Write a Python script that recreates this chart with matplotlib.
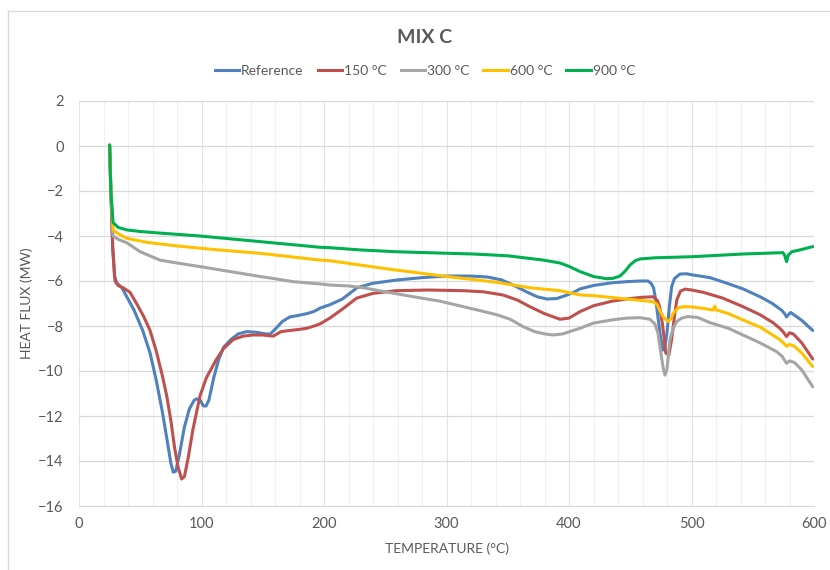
#!/usr/bin/env python3
"""DSC curves for MIX C — heat flux vs temperature for each firing temperature."""

import matplotlib.pyplot as plt
from matplotlib.lines import Line2D
from matplotlib.ticker import MultipleLocator

# Reference
ref_t = [25, 26, 27.5, 29, 31, 35, 39, 45, 52, 58, 63, 68, 72, 75, 77, 79, 82, 86, 90, 94,
         96, 99, 101.5, 103.7, 106, 110, 114, 118, 124, 130, 137, 145, 152, 156, 160, 166,
         172, 180, 186, 192, 197, 205, 215, 227, 240, 259, 280, 300, 320, 333, 345, 357,
         366, 374, 382, 390, 397, 404, 409, 420, 435, 447, 458, 464.5, 467, 469, 471,
         472.6, 474.5, 476.5, 478, 480, 482, 483.8, 486, 490.6, 496, 501, 515, 529, 542,
         556, 566, 573.6, 576, 577.6, 579, 581, 590, 599]
ref_q = [0, -2, -4.5, -5.8, -6.1, -6.3, -6.7, -7.3, -8.2, -9.2, -10.4, -11.8, -13.1, -14.1,
         -14.5, -14.45, -13.7, -12.5, -11.7, -11.3, -11.24, -11.3, -11.55, -11.56, -11.3,
         -10.3, -9.5, -8.95, -8.6, -8.35, -8.25, -8.28, -8.35, -8.36, -8.15, -7.8, -7.6,
         -7.52, -7.45, -7.35, -7.2, -7.05, -6.8, -6.3, -6.1, -5.96, -5.85, -5.78, -5.78,
         -5.82, -5.95, -6.25, -6.5, -6.7, -6.8, -6.78, -6.65, -6.5, -6.35, -6.2, -6.08,
         -6.03, -6.0, -6.0, -6.1, -6.3, -6.9, -7.6, -8.4, -9.07, -9.0, -8.3, -7.1, -6.25,
         -5.9, -5.69, -5.68, -5.73, -5.85, -6.1, -6.35, -6.7, -7.0, -7.3, -7.45, -7.6,
         -7.5, -7.4, -7.75, -8.2]

# 150 °C
t150 = [25, 26, 27.5, 29.4, 32, 36, 41.6, 47, 53, 58, 63, 68, 71.6, 75, 78, 81, 83.8, 86,
        89, 93, 98.8, 104, 108, 112, 118, 126, 134, 142, 150, 158.5, 165, 172, 180, 186,
        192, 197, 205, 215, 226.7, 240, 259, 285, 313.6, 330, 346, 358, 368, 380, 392.6,
        400, 409, 420, 435, 447, 458, 468.6, 472, 474, 476.5, 479, 481.5, 483.8, 486, 488,
        491, 494.7, 500, 509.4, 525, 542, 556, 566.5, 572, 574.7, 577.6, 580, 583, 590, 599]
q150 = [0, -2, -4.5, -6.0, -6.2, -6.3, -6.5, -7.0, -7.6, -8.2, -9.1, -10.2, -11.1, -12.2,
        -13.4, -14.3, -14.8, -14.7, -13.9, -12.6, -11.1, -10.3, -9.9, -9.5, -9.0, -8.6,
        -8.45, -8.4, -8.4, -8.45, -8.25, -8.2, -8.15, -8.1, -8.0, -7.9, -7.64, -7.25, -6.76,
        -6.55, -6.43, -6.4, -6.43, -6.48, -6.62, -6.85, -7.14, -7.45, -7.7, -7.65, -7.36,
        -7.1, -6.9, -6.8, -6.73, -6.7, -6.85, -7.14, -8.0, -9.2, -9.3, -8.6, -7.6, -6.84,
        -6.45, -6.36, -6.4, -6.5, -6.75, -7.14, -7.5, -7.85, -8.1, -8.25, -8.47, -8.3,
        -8.35, -8.75, -9.47]

# 300 °C
t300 = [25, 26, 27.8, 32, 39, 50, 66, 80, 98.8, 120, 147.8, 160, 175, 196.7, 205, 220, 232,
        250, 273, 295, 313.6, 330, 341, 352, 362.6, 372, 380, 387, 395, 409, 420, 435, 447,
        458, 466, 470, 472.6, 475, 477, 478.4, 480, 482.4, 485, 488, 492, 497, 505, 515,
        530, 542, 556, 569.5, 574, 577.6, 580, 584, 590, 599]
q300 = [0, -2, -4.0, -4.15, -4.3, -4.7, -5.07, -5.2, -5.36, -5.55, -5.8, -5.9, -6.03, -6.13,
        -6.18, -6.22, -6.3, -6.48, -6.7, -6.9, -7.14, -7.35, -7.5, -7.7, -8.03, -8.25,
        -8.35, -8.4, -8.35, -8.1, -7.87, -7.73, -7.65, -7.63, -7.7, -7.9, -8.3, -9.2, -9.9,
        -10.18, -9.9, -8.6, -8.1, -7.8, -7.65, -7.58, -7.62, -7.85, -8.1, -8.4, -8.75,
        -9.14, -9.35, -9.66, -9.55, -9.62, -9.95, -10.7]

# 600 °C
t600 = [25, 26, 27.8, 32, 39, 55, 79.7, 110, 147.8, 196.7, 205, 250, 300, 340, 368, 392.6,
        409, 419.6, 447, 468.6, 472, 474, 477, 480.8, 483, 485, 489, 493, 500, 510, 517.6,
        519, 520, 530, 542, 556, 572, 575, 577.6, 580, 584, 590, 599]
q600 = [0.05, -2, -3.73, -3.9, -4.1, -4.28, -4.44, -4.6, -4.77, -5.07, -5.1, -5.45, -5.8,
        -6.05, -6.3, -6.43, -6.62, -6.65, -6.8, -6.92, -7.05, -7.29, -7.6, -7.8, -7.7,
        -7.44, -7.2, -7.14, -7.15, -7.22, -7.29, -7.12, -7.28, -7.45, -7.73, -8.05, -8.6,
        -8.75, -8.9, -8.82, -8.9, -9.2, -9.8]

# 900 °C
t900 = [25, 26, 27.8, 32, 39, 50, 66, 98.8, 147.8, 196.7, 205, 230, 259, 290, 321.7, 350,
        379, 392.6, 400, 409, 420, 430.8, 436, 441.6, 446, 449.8, 454, 458, 470, 501, 542,
        574.7, 576, 577.6, 579, 581.8, 590, 599]
q900 = [0.05, -2, -3.4, -3.62, -3.73, -3.8, -3.87, -4.0, -4.25, -4.5, -4.52, -4.62, -4.7,
        -4.75, -4.8, -4.88, -5.07, -5.2, -5.35, -5.58, -5.8, -5.9, -5.88, -5.78, -5.55,
        -5.29, -5.1, -5.02, -4.97, -4.92, -4.8, -4.74, -4.85, -5.14, -4.85, -4.7, -4.6, -4.47]

series = [
    ("Reference", ref_t, ref_q, "#4F81BD"),
    ("150 °C", t150, q150, "#C0504D"),
    ("300 °C", t300, q300, "#A5A5A5"),
    ("600 °C", t600, q600, "#FFC000"),
    ("900 °C", t900, q900, "#00B050"),
]

TEXT = "#595959"
plt.rcParams["font.family"] = ["Lato", "DejaVu Sans"]

fig = plt.figure(figsize=(8.3, 5.7), dpi=100)
ax = fig.add_axes([79 / 830, 1 - 506 / 570, (814 - 79) / 830, (506 - 101) / 570])

for name, t, q, color in series:
    ax.plot(t, q, color=color, lw=2.2, label=name, solid_capstyle="round")

ax.set_xlim(0, 600)
ax.set_ylim(-16, 2)
ax.xaxis.set_major_locator(MultipleLocator(100))
ax.xaxis.set_minor_locator(MultipleLocator(20))
ax.yaxis.set_major_locator(MultipleLocator(2))
ax.grid(True, which="major", axis="y", color="#D9D9D9", lw=0.9)
ax.grid(True, which="major", axis="x", color="#E3E3E3", lw=0.8)
ax.grid(True, which="minor", axis="x", color="#F0F0F0", lw=0.8)
ax.set_axisbelow(True)
for side in ["top", "right", "left"]:
    ax.spines[side].set_visible(False)
ax.spines["bottom"].set_color("#D9D9D9")
ax.tick_params(which="both", length=0, colors=TEXT, labelsize=10.5, pad=8)
ax.tick_params(axis="y", pad=11)

ax.set_xlabel("TEMPERATURE (°C)", color=TEXT, fontsize=10, labelpad=8)
ax.set_ylabel("HEAT FLUX (MW)", color=TEXT, fontsize=10, labelpad=4)

fig.text(0.511, 0.935, "MIX C", ha="center", va="center", fontsize=14,
         fontweight="bold", color=TEXT)

handles = [Line2D([], [], color=c, lw=2.2) for _, _, _, c in series]
fig.legend(handles, [s[0] for s in series], loc="center", bbox_to_anchor=(0.512, 0.875),
           ncol=5, frameon=False, fontsize=10, handlelength=1.75, handletextpad=0.15,
           columnspacing=1.0, labelcolor=TEXT)

# chart area border
fig.add_artist(Line2D([8 / 830, 8 / 830], [0, 1 - 11 / 570], color="#D9D9D9", lw=1,
                      transform=fig.transFigure))
fig.add_artist(Line2D([8 / 830, 1], [1 - 11 / 570, 1 - 11 / 570], color="#D9D9D9", lw=1,
                      transform=fig.transFigure))

fig.savefig("out.png", dpi=100)
